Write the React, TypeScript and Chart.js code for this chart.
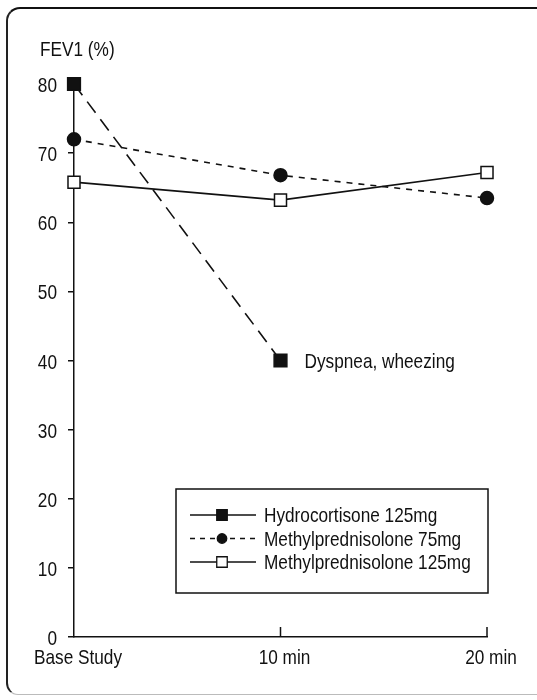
import React, { useEffect, useRef } from 'react';
import { Chart, registerables } from 'chart.js';

Chart.register(...registerables);

const timePoints = ['Base Study', '10 min', '20 min'];
const hydrocortisone125 = [80, 40, null];
const methylpred75 = [72, 66.8, 63.5];
const methylpred125 = [65.8, 63.2, 67.2];
const seriesLabels = ['Hydrocortisone 125mg', 'Methylprednisolone 75mg', 'Methylprednisolone 125mg'];
const yMin = 0;
const yMax = 80;
const yStep = 10;
const yAxisTitle = 'FEV1 (%)';
const annotationText = 'Dyspnea, wheezing';
const annotationSeries = 0;
const annotationIndex = 1;

const FONT = "'Liberation Sans', Arial, sans-serif";
const FONT_SIZE = 21;
const NARROW = 0.82;
const INK = '#111';

const styles = [
  { dash: [14, 8], style: 'rect', radius: 9, fill: INK, lr: 7 },
  { dash: [6, 6], style: 'circle', radius: 6.5, fill: INK, lr: 5 },
  { dash: [], style: 'rect', radius: 8.5, fill: '#fff', lr: 7 },
];

function narrowText(ctx: CanvasRenderingContext2D, text: string, x: number, y: number, align: CanvasTextAlign) {
  ctx.save();
  ctx.font = `${FONT_SIZE}px ${FONT}`;
  ctx.fillStyle = INK;
  ctx.textAlign = align;
  ctx.textBaseline = 'alphabetic';
  ctx.translate(x, y);
  ctx.scale(NARROW, 1);
  ctx.fillText(text, 0, 0);
  ctx.restore();
}

const overlayPlugin = {
  id: 'overlay',
  afterDraw(chart: any) {
    const ctx = chart.ctx as CanvasRenderingContext2D;
    const xs = chart.scales.x;
    const ys = chart.scales.y;
    const area = chart.chartArea;
    ctx.save();
    // inward x ticks
    ctx.strokeStyle = INK;
    ctx.lineWidth = 1.5;
    for (let i = 1; i < timePoints.length; i++) {
      const x = xs.getPixelForTick(i);
      ctx.beginPath();
      ctx.moveTo(x, area.bottom);
      ctx.lineTo(x, area.bottom - 10);
      ctx.stroke();
    }
    // y tick labels
    ys.ticks.forEach((t: any) => {
      const py = ys.getPixelForValue(t.value);
      narrowText(ctx, String(t.value), area.left - 17, py + 8, 'right');
    });
    // x tick labels
    xs.ticks.forEach((t: any, i: number) => {
      const px = xs.getPixelForTick(i);
      narrowText(ctx, timePoints[i], px + 4, area.bottom + 27, 'center');
    });
    // y title
    narrowText(ctx, yAxisTitle, area.left - 34, area.top - 28, 'left');
    // annotation
    const meta = chart.getDatasetMeta(annotationSeries);
    const pt = meta.data[annotationIndex];
    narrowText(ctx, annotationText, pt.x + 24, pt.y + 7, 'left');
    // legend box
    const bx = area.left + 102;
    const by = area.bottom - 148;
    const bw = 312;
    const bh = 104;
    ctx.lineWidth = 1.5;
    ctx.strokeStyle = INK;
    ctx.strokeRect(bx, by, bw, bh);
    seriesLabels.forEach((label, i) => {
      const s = styles[i];
      const cy = by + 26 + i * 23.5;
      const lx0 = bx + 14;
      const lx1 = bx + 80;
      const mx = bx + 46;
      ctx.save();
      ctx.lineWidth = 1.3;
      ctx.setLineDash(i === 1 ? [5, 5] : []);
      ctx.beginPath();
      ctx.moveTo(lx0, cy);
      ctx.lineTo(lx1, cy);
      ctx.stroke();
      ctx.restore();
      ctx.beginPath();
      if (s.style === 'circle') {
        ctx.arc(mx, cy, s.lr * 0.95, 0, Math.PI * 2);
      } else {
        ctx.rect(mx - s.lr * 0.75, cy - s.lr * 0.75, s.lr * 1.5, s.lr * 1.5);
      }
      ctx.fillStyle = s.fill;
      ctx.fill();
      ctx.lineWidth = 1.3;
      ctx.stroke();
      narrowText(ctx, label, bx + 88, cy + 7, 'left');
    });
    ctx.restore();
  },
};

export default function App() {
  const ref = useRef<HTMLCanvasElement>(null);
  useEffect(() => {
    if (!ref.current) return;
    const seriesData = [hydrocortisone125, methylpred75, methylpred125];
    const chart = new Chart(ref.current, {
      type: 'line',
      data: {
        labels: timePoints,
        datasets: seriesData.map((d, i) => ({
          label: seriesLabels[i],
          data: d,
          borderColor: INK,
          borderWidth: 1.6,
          borderDash: styles[i].dash,
          pointStyle: styles[i].style as any,
          pointRadius: styles[i].radius,
          pointBackgroundColor: styles[i].fill,
          pointBorderColor: INK,
          pointBorderWidth: 1.5,
          tension: 0,
          spanGaps: false,
          clip: false as any,
        })),
      },
      options: {
        animation: false,
        responsive: false,
        layout: { padding: { top: 84, left: 0, right: 50, bottom: 0 } },
        plugins: {
          legend: { display: false },
          tooltip: { enabled: false },
        },
        scales: {
          x: {
            type: 'category',
            offset: false,
            grid: { display: true, drawOnChartArea: false, drawTicks: false, color: INK },
            border: { display: true, color: INK, width: 1.5 },
            ticks: { display: false, autoSkip: false },
            afterFit: (s: any) => { s.height = 63; },
          },
          y: {
            min: yMin,
            max: yMax,
            ticks: { display: false, stepSize: yStep },
            grid: { display: true, drawOnChartArea: false, drawTicks: true, tickLength: 6, color: INK, lineWidth: 1.5 },
            border: { display: true, color: INK, width: 1.5 },
            afterFit: (s: any) => { s.width = 74; },
          },
        },
      },
      plugins: [overlayPlugin],
    });
    return () => chart.destroy();
  }, []);
  return (
    <div style={{ position: 'fixed', left: 0, top: 0, width: 537, height: 700, background: '#fff' }}>
      <div
        style={{
          position: 'absolute',
          left: 6,
          top: 7,
          width: 531,
          height: 688,
          borderTop: '2px solid #111',
          borderLeft: '2px solid #222',
          borderBottom: '1px solid #bbb',
          borderTopLeftRadius: 14,
          borderBottomLeftRadius: 12,
          boxSizing: 'border-box',
        }}
      />
      <canvas ref={ref} width={537} height={700} style={{ position: 'absolute', left: 0, top: 0 }} />
    </div>
  );
}
